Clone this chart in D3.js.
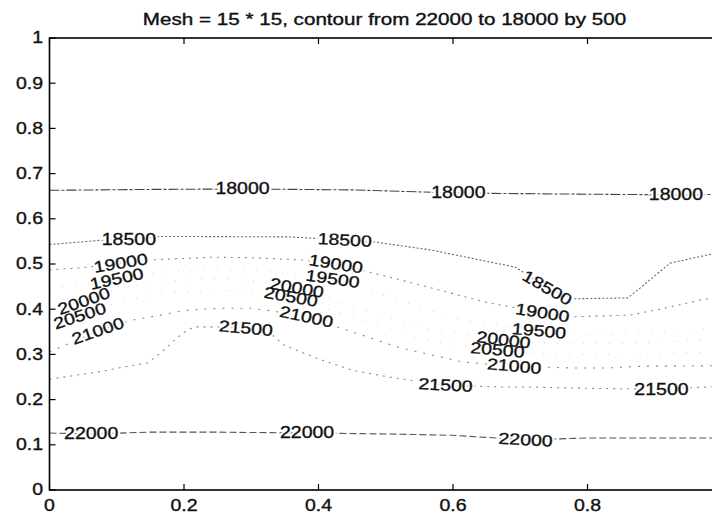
<!DOCTYPE html>
<html>
<head>
<meta charset="utf-8">
<script src="https://cdn.jsdelivr.net/npm/d3@7"></script>
<style>
  html, body { margin: 0; padding: 0; background: #fff; }
  svg { display: block; }
  text { font-family: "Liberation Sans", Arial, Helvetica, sans-serif; fill: #111; }
  text.ink { stroke: #111; stroke-width: 0.35; }
</style>
</head>
<body>
<svg id="chart" width="712" height="515"></svg>
<script>
// ---------------- data ----------------
const titleText = "Mesh = 15 * 15, contour from 22000 to 18000 by 500";
const xTicks = [0, 0.2, 0.4, 0.6, 0.8, 1];
const xTickLabels = ["0", "0.2", "0.4", "0.6", "0.8"];   // the "1" label falls outside the picture
const yTicks = [0, 0.1, 0.2, 0.3, 0.4, 0.5, 0.6, 0.7, 0.8, 0.9, 1];
const yTickLabels = ["0", "0.1", "0.2", "0.3", "0.4", "0.5", "0.6", "0.7", "0.8", "0.9", "1"];
const levels = [18000, 18500, 19000, 19500, 20000, 20500, 21000, 21500, 22000];

// contour paths (x, y) per level
const c18000 = [[0,0.663],[0.15,0.665],[0.287,0.666],[0.45,0.664],[0.608,0.657],[0.75,0.655],[0.93,0.653],[1,0.654]];
const c18500 = [[0,0.543],[0.08,0.553],[0.118,0.555],[0.165,0.561],[0.356,0.560],[0.439,0.553],[0.482,0.549],[0.567,0.531],[0.693,0.493],[0.740,0.447],[0.778,0.423],[0.860,0.425],[0.871,0.438],[0.923,0.502],[1,0.527]];
const c19000 = [[0,0.487],[0.05,0.492],[0.106,0.502],[0.15,0.509],[0.24,0.515],[0.30,0.514],[0.373,0.509],[0.426,0.500],[0.522,0.465],[0.647,0.416],[0.733,0.392],[0.778,0.383],[0.863,0.387],[0.908,0.400],[0.967,0.420],[1,0.428]];
const c19500 = [[0,0.445],[0.100,0.467],[0.17,0.482],[0.25,0.488],[0.33,0.484],[0.421,0.467],[0.50,0.430],[0.60,0.380],[0.728,0.352],[0.80,0.343],[0.90,0.348],[1,0.360]];
const c20000 = [[0,0.395],[0.051,0.418],[0.10,0.445],[0.17,0.462],[0.25,0.468],[0.31,0.462],[0.368,0.447],[0.45,0.408],[0.55,0.360],[0.675,0.332],[0.75,0.324],[0.85,0.324],[1,0.333]];
const c20500 = [[0,0.362],[0.045,0.385],[0.10,0.415],[0.17,0.436],[0.25,0.442],[0.31,0.438],[0.359,0.427],[0.45,0.383],[0.55,0.333],[0.666,0.310],[0.75,0.300],[0.85,0.300],[1,0.305]];
const c21000 = [[0,0.305],[0.019,0.318],[0.072,0.352],[0.12,0.375],[0.168,0.388],[0.20,0.397],[0.25,0.402],[0.30,0.402],[0.336,0.395],[0.382,0.383],[0.45,0.350],[0.52,0.315],[0.58,0.295],[0.615,0.283],[0.691,0.274],[0.775,0.270],[0.83,0.270],[0.884,0.274],[0.929,0.274],[1,0.275]];
const c21500 = [[0,0.245],[0.08,0.263],[0.11,0.272],[0.146,0.281],[0.165,0.303],[0.185,0.330],[0.198,0.347],[0.215,0.361],[0.244,0.361],[0.292,0.358],[0.333,0.341],[0.348,0.321],[0.40,0.290],[0.45,0.265],[0.512,0.248],[0.589,0.232],[0.667,0.228],[0.708,0.228],[0.80,0.225],[0.910,0.223],[0.98,0.228],[1,0.230]];
const c22000 = [[0,0.126],[0.062,0.124],[0.15,0.128],[0.25,0.128],[0.383,0.126],[0.50,0.124],[0.60,0.121],[0.708,0.111],[0.80,0.115],[1,0.115]];
const contourPaths = [c18000, c18500, c19000, c19500, c20000, c20500, c21000, c21500, c22000];

// label placement (level, x, y, angle in degrees)
const labelLevel = [18000,18000,18000, 18500,18500,18500, 19000,19000,19000, 19500,19500,19500, 20000,20000,20000, 20500,20500,20500, 21000,21000,21000, 21500,21500,21500, 22000,22000,22000];
const labelX     = [0.287,0.608,0.9315, 0.118,0.439,0.740, 0.106,0.426,0.733, 0.100,0.421,0.728, 0.051,0.368,0.675, 0.045,0.359,0.666, 0.072,0.382,0.691, 0.292,0.589,0.910, 0.062,0.383,0.708];
const labelY     = [0.666,0.657,0.653, 0.555,0.553,0.447, 0.502,0.500,0.392, 0.467,0.467,0.352, 0.418,0.447,0.332, 0.385,0.427,0.310, 0.352,0.383,0.274, 0.358,0.232,0.223, 0.124,0.126,0.111];
const labelAngle = [0,0,0, 0,3,30, -9,9,9, -12,8,5, -19,10,7, -18,10,5, -19,12,5, 5,3,0, 0,0,3];

// ---------------- drawing ----------------
const svg = d3.select("#chart");
const x = d3.scaleLinear().domain([0, 1]).range([49.5, 722]);
const y = d3.scaleLinear().domain([0, 1]).range([490, 38]);

const lineStyle = {
  18000: {stroke: "#444", dash: "10,2,3,2"},
  18500: {stroke: "#666", dash: "2,2"},
  19000: {stroke: "#888", dash: "2,5"},
  19500: {stroke: "#d4d4d4", dash: "1,12"},
  20000: {stroke: "#d4d4d4", dash: "1,12"},
  20500: {stroke: "#d4d4d4", dash: "1,12"},
  21000: {stroke: "#888", dash: "2,7"},
  21500: {stroke: "#888", dash: "2,5"},
  22000: {stroke: "#555", dash: "7,3"}
};

const line = d3.line().x(d => x(d[0])).y(d => y(d[1]));

const plot = svg.append("g");
plot.selectAll("path.contour")
  .data(contourPaths)
  .enter().append("path")
  .attr("class", "contour")
  .attr("d", line)
  .attr("fill", "none")
  .attr("stroke", (d, i) => lineStyle[levels[i]].stroke)
  .attr("stroke-width", 1.1)
  .attr("stroke-dasharray", (d, i) => lineStyle[levels[i]].dash);

const labels = labelLevel.map((lv, i) => ({lv, x: labelX[i], y: labelY[i], a: labelAngle[i]}));
const labScale = 1.22;
const labTransform = d => `translate(${x(d.x)},${y(d.y)}) rotate(${d.a}) scale(${labScale},1)`;

// white halos first so lines break under labels
plot.selectAll("text.halo")
  .data(labels).enter().append("text")
  .attr("class", "halo")
  .attr("transform", labTransform)
  .attr("text-anchor", "middle")
  .attr("dominant-baseline", "central")
  .attr("font-size", 16)
  .style("fill", "#fff")
  .attr("stroke", "#fff")
  .attr("stroke-width", 4)
  .text(d => d.lv);

plot.selectAll("text.clabel")
  .data(labels).enter().append("text")
  .attr("class", "clabel ink")
  .attr("transform", labTransform)
  .attr("text-anchor", "middle")
  .attr("dominant-baseline", "central")
  .attr("font-size", 16)
  .text(d => d.lv);

// axes box
const axes = svg.append("g");
axes.append("rect")
  .attr("x", x(0)).attr("y", y(1))
  .attr("width", x(1) - x(0)).attr("height", y(0) - y(1))
  .attr("fill", "none").attr("stroke", "#000").attr("stroke-width", 1.6);

// ticks (inward, MATLAB style)
const tickLen = 6;
xTicks.forEach(t => {
  axes.append("line").attr("x1", x(t)).attr("x2", x(t)).attr("y1", y(0)).attr("y2", y(0) - tickLen).attr("stroke", "#000").attr("stroke-width", 1.2);
  axes.append("line").attr("x1", x(t)).attr("x2", x(t)).attr("y1", y(1)).attr("y2", y(1) + tickLen).attr("stroke", "#000").attr("stroke-width", 1.2);
});
yTicks.forEach(t => {
  axes.append("line").attr("x1", x(0)).attr("x2", x(0) + tickLen).attr("y1", y(t)).attr("y2", y(t)).attr("stroke", "#000").attr("stroke-width", 1.2);
  axes.append("line").attr("x1", x(1)).attr("x2", x(1) - tickLen).attr("y1", y(t)).attr("y2", y(t)).attr("stroke", "#000").attr("stroke-width", 1.2);
});

const tickScale = 1.22;
axes.selectAll("text.xt").data(xTickLabels).enter().append("text")
  .attr("class", "xt ink")
  .attr("transform", (s, i) => `translate(${x(xTicks[i])},${505.5}) scale(${tickScale},1)`)
  .attr("text-anchor", "middle")
  .attr("dominant-baseline", "central")
  .attr("font-size", 16)
  .text(s => s);

axes.selectAll("text.yt").data(yTicks).enter().append("text")
  .attr("class", "yt ink")
  .attr("transform", t => `translate(${43},${y(t)}) scale(${tickScale},1)`)
  .attr("text-anchor", "end")
  .attr("dominant-baseline", "central")
  .attr("font-size", 16)
  .text((t, i) => yTickLabels[i]);

// title
svg.append("text")
  .attr("class", "ink")
  .attr("transform", `translate(${384.5},${19.5}) scale(1.29,1)`)
  .attr("text-anchor", "middle")
  .attr("dominant-baseline", "central")
  .attr("font-size", 16)
  .text(titleText);
</script>
</body>
</html>
